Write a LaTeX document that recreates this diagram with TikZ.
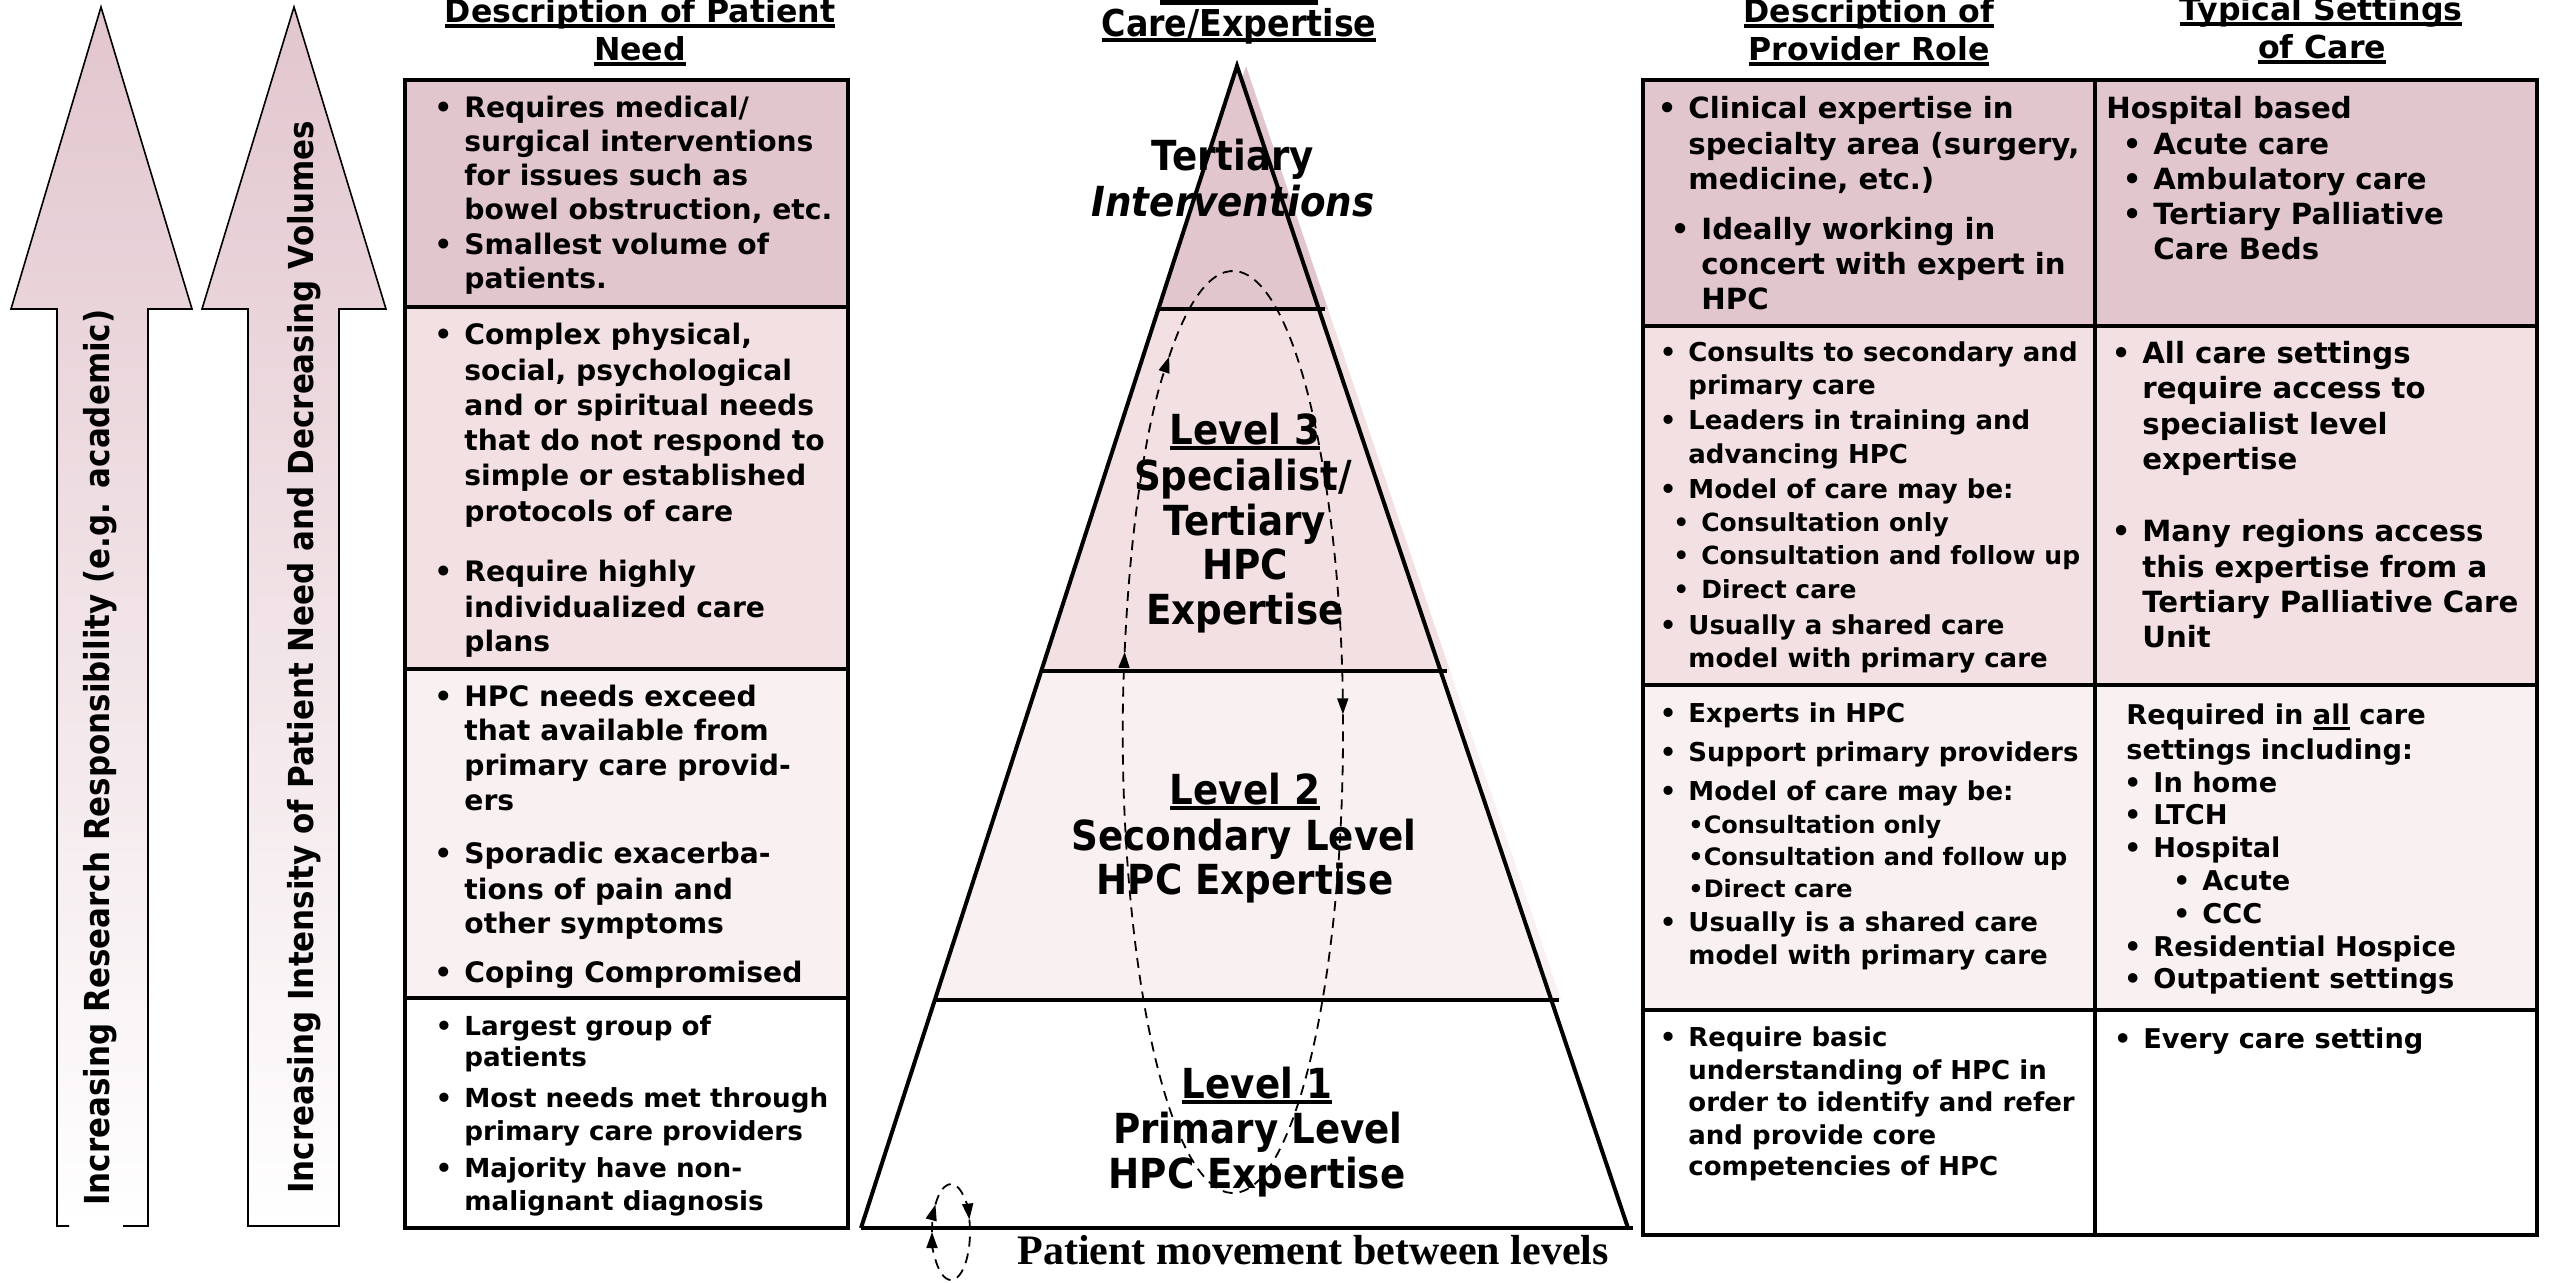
\documentclass[tikz,border=0pt]{standalone}
\usepackage{fontspec}
\setmainfont{DejaVu Sans}
\newfontfamily\tahomaf[FakeStretch=0.9]{DejaVu Sans}
\newfontfamily\timesf{Liberation Serif}
\usetikzlibrary{arrows.meta}
\definecolor{pkA}{RGB}{226,198,206}
\definecolor{pkB}{RGB}{243,224,226}
\definecolor{pkC}{RGB}{249,240,241}
\newsavebox\ulbox
\newcommand\ulx[2][2pt]{\sbox\ulbox{#2}\rlap{\rule[-3pt]{\wd\ulbox}{#1}}\usebox\ulbox}
\newcommand\Bu{\llap{\textbullet\hspace{6pt}}}
\newcommand\fntH{\bfseries\fontsize{15.8}{19}\selectfont}
\newcommand\fntA{\bfseries\fontsize{14.1}{16}\selectfont}
\newcommand\fntB{\bfseries\fontsize{13.1}{15}\selectfont}
\newcommand\fntC{\bfseries\fontsize{14.6}{17}\selectfont}
\newcommand\fntD{\bfseries\fontsize{13}{15}\selectfont}
\newcommand\fntE{\bfseries\fontsize{12.5}{14}\selectfont}
\newcommand\fntEs{\bfseries\fontsize{12}{14}\selectfont}
\newcommand\fntF{\bfseries\fontsize{14.6}{17}\selectfont}
\newcommand\fntG{\bfseries\fontsize{13.6}{16}\selectfont}
\newcommand\fntP{\tahomaf\bfseries\fontsize{20.7}{23}\selectfont}
\newcommand\fntPi{\tahomaf\bfseries\itshape\fontsize{20.7}{23}\selectfont}
\newcommand\fntQ{\tahomaf\bfseries\fontsize{18.5}{20}\selectfont}
\newcommand\fntR{\tahomaf\bfseries\fontsize{17.2}{19}\selectfont}
\newcommand\fntS{\timesf\bfseries\fontsize{21}{24}\selectfont}
\begin{document}
\begin{tikzpicture}[x=0.5pt,y=-0.5pt,
  ln/.style={anchor=base west, inner sep=0pt},
  lc/.style={anchor=base, inner sep=0pt},
  bord/.style={line width=2pt},
  dsh/.style={dash pattern=on 5pt off 3.5pt, line width=0.9pt},
  tip/.style={-{Triangle[length=8pt,width=5.5pt]}}]
\useasboundingbox (0,0) rectangle (2553,1282);
\fill[white] (0,0) rectangle (2553,1282);

% ---------- vertical arrows ----------
\shade[top color=pkA, bottom color=white] (101,7) -- (192,309) -- (148,309) -- (148,1226) -- (57,1226) -- (57,309) -- (11,309) -- cycle;
\draw[line width=0.8pt] (69,1226) -- (57,1226) -- (57,309) -- (11,309) -- (101,7) -- (192,309) -- (148,309) -- (148,1226) -- (123,1226);
\shade[top color=pkA, bottom color=white] (294,7) -- (386,309) -- (339,309) -- (339,1226) -- (248,1226) -- (248,309) -- (202,309) -- cycle;
\draw[line width=0.8pt] (294,7) -- (386,309) -- (339,309) -- (339,1226) -- (248,1226) -- (248,309) -- (202,309) -- cycle;
\node[ln, rotate=90, font=\fntR] (ar1) at (109,1206) {Increasing Research Responsibility (e.g. academic)};
\node[ln, rotate=90, font=\fntR] (ar2) at (313,1194) {Increasing Intensity of Patient Need and Decreasing Volumes};

% ---------- headers ----------
\node[lc, font=\fntH] (h1a) at (640,22) {\ulx{Description of Patient}};
\node[lc, font=\fntH] (h1b) at (640,60) {\ulx{Need}};
\node[lc, font=\fntH] (h2a) at (1869,22) {\ulx{Description of}};
\node[lc, font=\fntH] (h2b) at (1869,60) {\ulx{Provider Role}};
\node[lc, font=\fntH] (h3a) at (2321,20) {\ulx{Typical Settings}};
\node[lc, font=\fntH] (h3b) at (2322,58) {\ulx{of Care}};
\fill (1160,0) rectangle (1318,5);
\node[lc, font=\fntQ] (care) at (1239,36) {\ulx{Care/Expertise}};

% ---------- table 1 ----------
\fill[pkA] (405,80) rectangle (848,307);
\fill[pkB] (405,307) rectangle (848,669);
\fill[pkC] (405,669) rectangle (848,998);
\draw[bord] (405,307) -- (848,307) (405,669) -- (848,669) (405,998) -- (848,998);
\draw[line width=2.3pt] (405,80) rectangle (848,1228);

\foreach \y/\t [count=\i] in {117/{\Bu Requires medical/}, 151/{surgical interventions}, 185/{for issues such as}, 219/{bowel obstruction, etc.}, 254/{\Bu Smallest volume of}, 288/{patients.}}
  \node[ln, font=\fntA] (pa\i) at (464,\y) {\t};
\foreach \y/\t [count=\i] in {344/{\Bu Complex physical,}, 380/{social, psychological}, 415/{and or spiritual needs}, 450/{that do not respond to}, 485/{simple or established}, 521/{protocols of care}, 581/{\Bu Require highly}, 617/{individualized care}, 651/{plans}}
  \node[ln, font=\fntA] (pb\i) at (464,\y) {\t};
\foreach \y/\t [count=\i] in {706/{\Bu HPC needs exceed}, 740/{that available from}, 775/{primary care provid-}, 810/{ers}, 863/{\Bu Sporadic exacerba-}, 899/{tions of pain and}, 933/{other symptoms}, 982/{\Bu Coping Compromised}}
  \node[ln, font=\fntA] (pc\i) at (464,\y) {\t};
\foreach \y/\t [count=\i] in {1035/{\Bu Largest group of}, 1066/{patients}, 1107/{\Bu Most needs met through}, 1140/{primary care providers}, 1177/{\Bu Majority have non-}, 1210/{malignant diagnosis}}
  \node[ln, font=\fntB] (pd\i) at (464,\y) {\t};

% ---------- pyramid ----------
% shadow
\fill[pkA] (1246,66) -- (1328,309) -- (1167,309) -- cycle;
\fill[pkB] (1167,309) -- (1328,309) -- (1450,671) -- (1050,671) -- cycle;
\fill[pkC] (1050,671) -- (1450,671) -- (1561,1000) -- (944,1000) -- cycle;
% tiers
\fill[pkA] (1237,66) -- (1318.8,309) -- (1158.4,309) -- cycle;
\fill[pkB] (1158.4,309) -- (1318.8,309) -- (1440.6,671) -- (1041.2,671) -- cycle;
\fill[pkC] (1041.2,671) -- (1440.6,671) -- (1551.3,1000) -- (934.8,1000) -- cycle;
\fill[white] (934.8,1000) -- (1551.3,1000) -- (1628,1228) -- (861,1228) -- cycle;
\coordinate (apex) at (1237,66);
\coordinate (bl) at (861,1228);
\coordinate (br) at (1628,1228);
\draw[bord] (1158,309) -- (1325,309) (1041,671) -- (1447,671) (935,1000) -- (1559,1000) (bl) -- (1633,1228);
\draw[bord] (bl) -- (apex) -- (br);

\node[lc, font=\fntP] (tert) at (1233,170) {Tertiary};
\node[lc, font=\fntPi] (interv) at (1233,216) {Interventions};
\node[lc, font=\fntP] (lv3) at (1245,444) {\ulx{Level 3}};
\node[lc, font=\fntP] (spec) at (1243,490) {Specialist/};
\node[lc, font=\fntP] (tert3) at (1245,535) {Tertiary};
\node[lc, font=\fntP] (hpc3) at (1245,579) {HPC};
\node[lc, font=\fntP] (exp3) at (1245,624) {Expertise};
\node[lc, font=\fntP] (lv2) at (1245,804) {\ulx{Level 2}};
\node[lc, font=\fntP] (sec) at (1244,850) {Secondary Level};
\node[lc, font=\fntP] (hpc2) at (1245,894) {HPC Expertise};
\node[lc, font=\fntP] (lv1) at (1257,1098) {\ulx{Level 1}};
\node[lc, font=\fntP] (prim) at (1258,1143) {Primary Level};
\node[lc, font=\fntP] (hpc1) at (1257,1188) {HPC Expertise};

% dashed loops
\draw[dsh, tip] ({1233+110*cos(190)},{732+461*sin(190)}) arc[start angle=190, end angle=234.5, x radius=110, y radius=461];
\draw[dsh, tip] ({1233+110*cos(234.5)},{732+461*sin(234.5)}) arc[start angle=234.5, end angle=357.8, x radius=110, y radius=461];
\draw[dsh, tip] ({1233+110*cos(357.8)},{732+461*sin(357.8)}) arc[start angle=357.8, end angle=550, x radius=110, y radius=461];
\draw[dsh, tip] ({951+19*cos(345)},{1232+48*sin(345)}) arc[start angle=345, end angle=540, x radius=19, y radius=48];
\draw[dsh, tip] ({951+19*cos(180)},{1232+48*sin(180)}) arc[start angle=180, end angle=215, x radius=19, y radius=48];
\draw[dsh, tip] ({951+19*cos(215)},{1232+48*sin(215)}) arc[start angle=215, end angle=345, x radius=19, y radius=48];
\node[ln, font=\fntS] (pm) at (1017,1264) {Patient movement between levels};

% ---------- table 2 ----------
\fill[pkA] (1643,80) rectangle (2537,326);
\fill[pkB] (1643,326) rectangle (2537,685);
\fill[pkC] (1643,685) rectangle (2537,1010);
\draw[bord] (1643,326) -- (2537,326) (1643,685) -- (2537,685) (1643,1010) -- (2537,1010) (2095,80) -- (2095,1235);
\draw[line width=2.3pt] (1643,80) rectangle (2537,1235);

\foreach \y/\t [count=\i] in {118/{\Bu Clinical expertise in}, 154/{specialty area (surgery,}, 189/{medicine, etc.)}}
  \node[ln, font=\fntC] (qa\i) at (1688,\y) {\t};
\foreach \y/\t [count=\i] in {239/{\Bu Ideally working in}, 274/{concert with expert in}, 309/{HPC}}
  \node[ln, font=\fntC] (qb\i) at (1701,\y) {\t};
\foreach \y/\t [count=\i] in {361/{\Bu Consults to secondary and}, 394/{primary care}, 429/{\Bu Leaders in training and}, 463/{advancing HPC}, 498/{\Bu Model of care may be:}, 634/{\Bu Usually a shared care}, 667/{model with primary care}}
  \node[ln, font=\fntD] (qc\i) at (1688,\y) {\t};
\foreach \y/\t [count=\i] in {531/{\Bu Consultation only}, 564/{\Bu Consultation and follow up}, 598/{\Bu Direct care}}
  \node[ln, font=\fntE] (qd\i) at (1701,\y) {\t};
\foreach \y/\t [count=\i] in {722/{\Bu Experts in HPC}, 761/{\Bu Support primary providers}, 800/{\Bu Model of care may be:}, 931/{\Bu Usually is a shared care}, 964/{model with primary care}}
  \node[ln, font=\fntD] (qe\i) at (1688,\y) {\t};
\foreach \y/\t [count=\i] in {833/{\textbullet Consultation only}, 865/{\textbullet Consultation and follow up}, 897/{\textbullet Direct care}}
  \node[ln, font=\fntEs] (qf\i) at (1688,\y) {\t};
\foreach \y/\t [count=\i] in {1046/{\Bu Require basic}, 1079/{understanding of HPC in}, 1111/{order to identify and refer}, 1144/{and provide core}, 1175/{competencies of HPC}}
  \node[ln, font=\fntD] (qg\i) at (1688,\y) {\t};

\node[ln, font=\fntC] (ra0) at (2106,118) {Hospital based};
\foreach \y/\t [count=\i] in {154/{\Bu Acute care}, 189/{\Bu Ambulatory care}, 224/{\Bu Tertiary Palliative}, 259/{Care Beds}}
  \node[ln, font=\fntC] (ra\i) at (2153,\y) {\t};
\foreach \y/\t [count=\i] in {363/{\Bu All care settings}, 398/{require access to}, 434/{specialist level}, 469/{expertise}, 541/{\Bu Many regions access}, 577/{this expertise from a}, 612/{Tertiary Palliative Care}, 647/{Unit}}
  \node[ln, font=\fntF] (rb\i) at (2142,\y) {\t};
\node[ln, font=\fntG] (rc0) at (2126,724) {Required in \ulx[1.3pt]{all} care};
\node[ln, font=\fntG] (rc1) at (2126,759) {settings including:};
\foreach \y/\t [count=\i] in {792/{\Bu In home}, 824/{\Bu LTCH}, 857/{\Bu Hospital}, 956/{\Bu Residential Hospice}, 988/{\Bu Outpatient settings}}
  \node[ln, font=\fntG] (rd\i) at (2153,\y) {\t};
\foreach \y/\t [count=\i] in {890/{\Bu Acute}, 923/{\Bu CCC}}
  \node[ln, font=\fntG] (re\i) at (2202,\y) {\t};
\node[ln, font=\fntG] (rf) at (2143,1048) {\Bu Every care setting};
\end{tikzpicture}
\end{document}
